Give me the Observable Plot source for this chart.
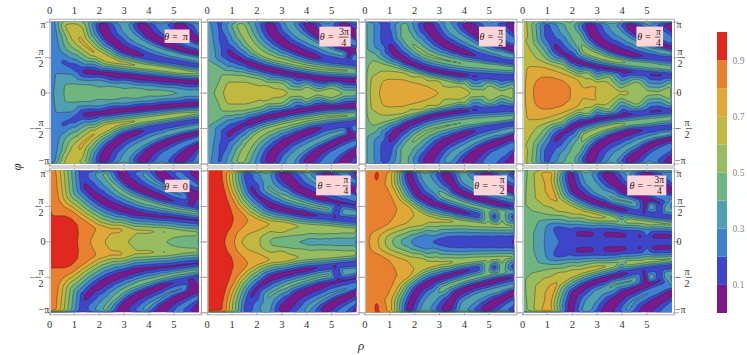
<!DOCTYPE html>
<html><head><meta charset="utf-8">
<script src="https://cdn.jsdelivr.net/npm/d3@7"></script>
<script src="https://cdn.jsdelivr.net/npm/@observablehq/plot@0.6"></script>
<style>
html,body{margin:0;padding:0;background:#fff}
#wrap{position:relative;width:747px;height:355px;overflow:hidden}
#wrap>svg{position:absolute;left:0;top:0}
.lab{position:absolute;font-family:"Liberation Serif",serif;font-style:italic;font-size:13px;color:#333}
</style></head><body><div id="wrap"></div>
<script>
// (upper half, each panel is mirror-symmetric in phi).
// Axis arrays: rho, value along phi=0. Line arrays: value, then rho, phi/pi pairs.
const A1=[.05,.27,.3,.34,.56,.4,1,.45,1.5,.48,2,.48,2.5,.48,3,.47,3.5,.46,4,.45,4.5,.44,5,.43,5.6,.4,6.05,.37];
const L1=[
[.26,.05,.28,.05,.5],[.24,.05,.75],[.22,.05,1],
[.3,.22,1,.3,.85,.38,.7,.5,.58,.25,.28,.6,.27,.9,.27,2,.19,3,.15,4,.115,5,.08,6.05,.05],
[.4,.6,.13,1,.14,1.5,.13,2.5,.1,3.5,.08,4.5,.05],
[.17,.62,.44,.8,.4],[.12,1.05,.36,1.25,.33],[.03,1.44,.31,1.9,.29],
[0,2.4,.27,2.9,.25,3.4,.235,3.9,.215,4.4,.2,4.9,.185,5.5,.17,6.05,.16],
[.6,.55,1,.65,.9,.85,.78,1.1,.68],[.55,1.35,1],[.66,.95,1,1,.9],
[.74,1.3,.73,1.55,.65,1.8,.58,2.1,.52,2.4,.47],[.68,2.8,.43,3.2,.41],[.65,3.7,.38,4.2,.36,4.7,.335,5.2,.31],[.6,5.7,.29,6.05,.28],
[0,2.1,1,2.15,.9,2.3,.8,2.5,.73,2.85,.63,3.1,.59,3.4,.555],[.06,3.8,.52,4.1,.49,4.5,.465,5,.44,5.5,.41,6.05,.385],
[.39,3,1,3.1,.9,3.3,.81,3.6,.74,3.9,.69,4.2,.64,4.6,.59],[.43,5,.55,5.5,.51,6.05,.47],
[-.01,3.67,1,3.75,.92,3.95,.83,4.2,.77,4.5,.72,4.8,.67,5.1,.635,5.4,.6,5.7,.58,6.05,.555],
[.31,4.46,1,4.55,.93,4.75,.86,5,.8,5.3,.74,5.65,.69,6.05,.64],
[-.01,5.16,1,5.25,.93,5.45,.85,5.7,.79,6.05,.725],
[.27,5.85,1,6.05,.85],[.26,6.05,1]];
const A2=[.05,.43,.27,.5,.63,.6,1.1,.68,1.56,.71,2.1,.69,2.6,.66,3.2,.63,3.8,.6,4.4,.57,5,.54,5.5,.52,6.05,.51];
const L2=[
[.42,.05,.45],[.38,.05,.7],[.33,.05,1],
[.5,.6,.26,1,.26,1.5,.25,2.2,.2,3,.15,4,.1,5,.085],
[.6,.8,.16,1.5,.16,2.3,.12,3,.07],
[.17,.5,1,.55,.88],[.13,.65,.76,.75,.66],
[.05,.89,.58,1.1,.52,1.4,.46],[0,1.76,.41,2.2,.36,2.7,.32,3.2,.28,3.76,.25,4.3,.22,4.9,.2,5.5,.19,6.05,.18],
[.58,1.33,1,1.4,.92,1.5,.84,1.7,.72,2,.6,2.3,.53,2.7,.48,3.2,.44,3.8,.39,4.3,.36,4.8,.335,5.3,.325,5.6,.32],[.52,6.05,.3],
[0,2.5,1,2.55,.92,2.65,.84,2.85,.76,3.2,.67,3.75,.58,4.2,.52],[.06,4.6,.48,5.1,.45,5.6,.43,6.05,.41],
[.39,3.3,1,3.4,.93,3.6,.85,3.9,.78,4.2,.72,4.6,.66,5,.6,5.5,.55],[.43,6.05,.5],
[-.01,4,1,4.1,.93,4.3,.86,4.6,.79,5,.72,5.4,.65,5.76,.6,6.05,.58],
[.32,4.8,1,4.9,.93,5.1,.86,5.5,.78,6.05,.7],
[-.01,5.45,1,5.55,.93,5.75,.87,6.05,.8],[.28,6.05,1]];
const A3=[.05,.53,.2,.6,.57,.7,1,.78,1.4,.81,1.9,.78,2.5,.74,3.04,.7,3.6,.67,4.2,.63,4.9,.6,5.5,.56,6.05,.54];
const L3=[
[.5,.05,.35],[.42,.05,.6,.05,1],
[.6,.25,.22,.65,.31,1.1,.31,1.6,.29,2.3,.24,3,.18,3.8,.1],
[.7,.7,.17,.9,.2,1.6,.19,2,.15,2.5,.1],
[.5,.35,.47,.7,.42,1.3,.36,1.9,.3,2.5,.24,3.2,.19,4,.15,5,.12,6.05,.1],
[.13,.8,1,.85,.9],[.1,.9,.84,.97,.72],[.01,1.1,.62,1.3,.53,1.7,.44,2.24,.366,2.7,.32,3.3,.28,3.84,.255],[.05,4.4,.24,5,.235,5.5,.225,6.05,.22],
[.47,1.6,1,1.6,.9],[.52,1.65,.81,1.8,.72],[.55,2.1,.62,2.4,.55,2.8,.5,3.3,.46,3.9,.42,4.5,.4,5,.38,5.4,.37],[.52,6.05,.35],
[0,2.55,1,2.6,.92,2.8,.82,3,.74,3.3,.67,3.6,.62,4,.57],[.06,4.5,.52,5,.48,5.5,.45,6.05,.42],
[.38,3.3,1,3.4,.93,3.6,.85,3.95,.77,4.3,.7,4.7,.64,5.2,.58],[.44,5.6,.55,6.05,.52],
[-.01,4.08,1,4.15,.93,4.3,.88,4.55,.81,4.8,.76,5.1,.72,5.4,.68,5.7,.64,6.05,.6],
[.32,5,1,5.1,.93,5.3,.86,5.65,.79,6.05,.72],
[-.01,5.85,1,5.95,.94,6.05,.9],[.1,6.05,1]];
const A4=[.05,.7,.43,.8,.8,.87,1.1,.89,1.5,.86,1.93,.8,2.4,.75,2.9,.7,3.4,.66,3.9,.63,4.4,.6,5,.56,5.5,.54,6.05,.53];
const L4=[
[.7,.05,.3],[.65,.05,.5],[.62,.05,.75,.05,1],
[.8,.45,.1,.55,.18,.8,.235,1.2,.23,1.6,.19,1.9,.1],
[.7,.12,.2,.25,.38,.8,.37,1.2,.33,1.6,.28,2.2,.2,2.98,.11],
[.6,.2,1,.25,.8,.35,.6,.6,.48,1,.42,1.7,.33,2.5,.2,3.5,.14,4.66,.09],
[.5,.35,1,.45,.7,.9,.5,1.7,.4,2.6,.3,3.5,.24,4.6,.17,6.05,.12],
[.15,.93,1,.97,.9],[.12,1,.84,1.15,.74],[.05,1.33,.65,1.6,.56],[.01,1.94,.48,2.4,.42,3,.37,3.55,.34,4.1,.31],[.05,4.6,.29,5.16,.27,5.6,.26,6.05,.25],
[.48,1.94,1,2,.9],[.52,2.2,.8,2.35,.7],[.62,2.54,.6,2.9,.54,3.2,.5,3.55,.47,3.9,.45],[.56,4.2,.43,4.7,.41,5.2,.39],[.52,5.6,.37,6.05,.35],
[0,2.67,1,2.72,.9,2.87,.79,3.15,.7,3.55,.62,3.95,.57,4.4,.53],[.06,4.9,.51,5.5,.49,6.05,.48],
[.38,3.6,1,3.7,.92,3.9,.85,4.25,.76,4.7,.68,5.2,.62],[.45,5.6,.59,6.05,.56],
[-.01,4.25,1,4.33,.93,4.55,.87,4.85,.79,5.2,.72,5.6,.67,6.05,.63],
[.32,5.05,1,5.15,.93,5.4,.85,5.7,.79,6.05,.73],
[-.01,5.85,1,5.95,.96,6.05,.93],[.1,6.05,1]];
const A5=[.05,.92,.6,.93,1.15,.9,1.62,.8,2.2,.7,2.6,.66,3.12,.6,3.8,.55,4.6,.5,5,.47,5.5,.45,6.05,.43];
const L5=[
[.9,.05,.39,.6,.39,.9,.35,1.17,.25,1.2,.12],[.85,.05,.7,.05,1],
[.8,.28,1,.33,.8,.4,.6,.6,.5,.9,.44,1.2,.36,1.55,.28,1.9,.2],
[.72,2.4,.19,2.9,.19],[.62,3.4,.175,4.1,.165,4.73,.155],[.56,5.4,.14],[.54,6.05,.13],
[.5,5,.07,5.5,.09,6.05,.09],
[.12,1.3,1,1.33,.88],[.04,1.48,.765,1.7,.68],[.01,2.04,.6,2.4,.53,2.9,.46,3.4,.41],[.04,3.9,.38,4.4,.36,4.9,.35,5.5,.325,6.05,.305],
[.44,2.25,1,2.3,.92,2.45,.85],[.47,2.7,.77,2.95,.7,3.25,.64],[.49,3.6,.59,4,.55,4.5,.5,5,.46,5.5,.43,6.05,.4],
[0,2.85,1,2.92,.92,3.1,.85,3.35,.79,3.7,.73,4.1,.67,4.5,.62],[.05,4.9,.58,5.3,.55,5.7,.52,6.05,.48],
[.35,3.8,1,3.9,.93,4.1,.87,4.45,.8,4.8,.73,5.4,.66,6.05,.58],
[-.01,4.4,1,4.5,.93,4.7,.88,5,.81,5.3,.76,5.65,.71,6.05,.65],
[.27,5.13,1,5.25,.93,5.5,.87,5.8,.81,6.05,.77],
[-.01,5.87,1,5.95,.95,6.05,.9],[.08,6.05,1]];
const A6=[.05,.97,.72,.9,1.09,.8,1.36,.7,1.83,.6,2.36,.5,2.9,.44,3.43,.4,4,.36,4.4,.345,4.8,.33,5.2,.31,5.56,.3,6.05,.28];
const L6=[
[.97,.05,.5,.05,1],
[.9,.63,1,.65,.88,.7,.8,.85,.6,1,.45,1.16,.34,1,.2,.8,.1],
[.8,.78,1,.9,.7,1.2,.5,1.55,.37,1.9,.3,1.2,.13,1.5,.23],
[.72,2.5,.26,3.03,.25,1.55,.12,2.1,.19],
[.62,3.7,.23,4.3,.21,4.9,.2,2.1,.08,3,.14],[.58,5.5,.19],[.56,6.05,.18],
[.5,2.6,.06,3,.075,3.4,.09,3.9,.1,4.5,.11,5.2,.115,6.05,.12],[.4,4,.05,4.5,.05,5,.05,5.5,.05,6.05,.05],
[.12,1.56,1,1.6,.88],[.05,1.83,.72,2.1,.62],[.01,2.56,.507,3,.46,3.5,.42,4.03,.39],[.05,4.5,.365,5.09,.34,5.6,.32,6.05,.3],
[.39,2.4,1,2.42,.9],[.44,2.5,.75,2.8,.68],[.47,3.2,.62,3.7,.56,4.3,.5,4.9,.46,5.6,.42],[.43,6.05,.4],
[0,3.03,1,3.1,.93,3.3,.85,3.5,.78,3.75,.72,4.1,.67,4.5,.62],[.05,4.9,.58,5.3,.55,5.7,.53,6.05,.5],
[.35,4,1,4.1,.93,4.3,.87,4.65,.8,5,.74,5.5,.68,6.05,.62],
[-.01,4.7,1,4.8,.93,5,.87,5.3,.81,5.6,.77,6.05,.7],
[.27,5.4,1,5.5,.95,5.8,.88,6.05,.83],[0,6,1,6.05,.97],[.1,6.05,1]];
const A7=[.05,.82,.17,.8,.53,.7,.8,.6,1.1,.5,1.41,.4,1.8,.3,2.57,.2,3,.17,3.5,.14,4,.125,4.7,.1,5.4,.07,6.05,.05];
const L7=[
[.83,.05,.2],[.85,.05,.6,.05,1,.25,1,.75,1],
[.92,.48,1,.48,.92],[.9,.4,.92,.56,.92,.48,.81],
[.8,.25,.1,.5,.16,.75,.19,1,.24,1.2,.34,1.47,.47,.9,1,.97,.74,1.15,.62,1.3,.54],
[.7,.6,.1,.85,.16,1.2,.2,1.7,.26,2.57,.33,1.07,1,1.1,.8,1.4,.6,1.9,.47,2.3,.37],
[.66,3,.31,3.4,.3],[.61,3.9,.28,4.37,.26,.85,.08,1.1,.13,1.6,.19,2.2,.23],[.58,5,.24,5.5,.23],[.55,6.05,.22],
[.5,1.2,.07,1.6,.12,2.3,.17],
[.4,1.5,.05,2,.11],
[.3,1.9,.05,2.4,.11],
[.2,2.7,.02,3.2,.08,3.7,.09,4.2,.09,4.7,.09,5.2,.09,5.7,.09,6.05,.09],
[.01,1.73,1,1.8,.9,1.95,.77,2.17,.65,2.7,.55,3.3,.48,3.9,.42],[.05,4.5,.375,5.2,.36,6.05,.35],
[.4,2.37,1,2.42,.92,2.55,.85,2.85,.74],[.5,3.17,.65,3.6,.59,4.2,.52,4.9,.46,5.5,.44],[.46,6.05,.43],
[0,3.24,1,3.3,.93,3.45,.85,3.7,.72,4.2,.64,4.9,.577,5.5,.52],[.05,6.05,.48],
[.35,3.85,1],[.41,3.97,.9,4.15,.84,4.37,.79,4.8,.73,5.4,.67,6.05,.62],
[-.01,4.8,1,4.9,.93,5.1,.87,5.35,.82,5.6,.78,6.05,.7],
[.29,5.5,1,5.7,.92,6.05,.84],[0,6,1,6.05,.97],[.1,6.05,1]];
const A8=[.05,.46,.46,.4,.86,.3,1.46,.2,2,.17,2.5,.16,3,.16,3.5,.16,4,.155,4.5,.155,5,.155,5.5,.15,6.05,.15];
const L8=[
[.47,.05,.25],[.48,.05,.5],[.45,.05,1],[.5,.2,1],[.6,.45,1],[.7,.7,1,1.22,1],
[.15,1.4,.18],[.06,2.2,.13,2.8,.125,3.4,.12,4,.11,4.7,.1,5.3,.095,6.05,.09],
[.2,1.45,.22,2,.2,3,.2,3.8,.19,4.5,.17,5.3,.16,6.05,.155],
[.3,.9,.15,1,.25,1.5,.26,2.2,.25,3.2,.24,4,.21,5,.185,6.05,.175],
[.4,.45,.12,.65,.3,1.2,.32,2,.29,3,.27,4,.235,5,.2,6.05,.19],
[.5,.1,.46,.5,.43,1.1,.38,2,.33,3,.29,4,.26,5,.235,6.05,.21],
[.78,1,1,1.05,.88],[.76,1.15,.75,1.25,.66],[.72,1.4,.58,1.8,.49],[.68,2.3,.43,2.9,.38],[.62,3.65,.33,4.3,.3],[.58,5,.28,5.5,.265],[.54,6.05,.25],
[.01,1.9,1,1.93,.9,2,.8,2.07,.72,2.4,.64,3,.55,3.5,.5,3.95,.46],[.06,4.4,.42,4.9,.39,5.5,.36,6.05,.34],
[.4,2.54,1,2.6,.92,2.7,.85,3.1,.7],[.46,3.68,.6,4.4,.55,5.16,.51,5.83,.46],[.44,6.05,.44],
[-.01,3.39,1,3.45,.93,3.65,.85,4.08,.72,4.5,.67,5,.6],[.05,5.5,.55,6.05,.51],
[.34,4.2,1,4.25,.93,4.4,.85,4.7,.79,5,.73,5.5,.66,6.05,.6],
[-.01,4.9,1,5,.93,5.3,.85,5.6,.79,6.05,.7],
[.27,5.7,1,5.85,.93,6.05,.87],[.2,6.05,1]];
const axes=[A1,A2,A3,A4,A5,A6,A7,A8];
const lines=[L1,L2,L3,L4,L5,L6,L7,L8];
const thresholds=[-1,.1,.2,.3,.4,.5,.6,.7,.8,.9];
const colors=["#7a1a8a","#3f45c8","#4080d0","#50a0b0","#70b480","#98bc60","#c0b840","#e0a838","#e8802f","#e0281f"];
const rhoTicks=[0,1,2,3,4,5];
const phiTicks=[-1,-.5,0,.5,1];
const thetaPrefix=["θ = ","θ = ","θ = ","θ = ","θ = ","θ = −","θ = −","θ = −"];
const thetaNum=["π","3π","π","π","0","π","π","3π"];
const thetaDen=["","4","2","4","","4","2","4"];
const boxX1=[4.65,4.53,4.61,4.6,4.66,4.4,4.4,4.23];
const boxX2=[5.65,5.79,5.68,5.67,5.65,5.79,5.73,5.8];
const boxY1=[.7,.65,.65,.65,.695,.65,.65,.65];
const boxY2=[.89,.93,.93,.93,.87,.93,.93,.93];
const prefixEnd=[5.28,5.2,5.28,5.28,5.28,5.38,5.34,5.24];
const fracX=[5.46,5.5,5.46,5.46,5.46,5.58,5.52,5.5];
const fracHalf=[0,.2,.11,.11,0,.11,.11,.2];
const yBars=[[0,.5,-.56,-.32],[0,-.5,-.56,-.32],[3,.5,6.3,6.56],[3,-.5,6.58,6.84]];

const pts=[];
axes.forEach((A,p)=>{for(let i=0;i<A.length;i+=2)pts.push({p,r:A[i],f:0,v:A[i+1]})});
lines.forEach((L,p)=>L.forEach(l=>{for(let i=1;i<l.length;i+=2){
  pts.push({p,r:l[i],f:l[i+1],v:l[0]});
  pts.push({p,r:l[i],f:-l[i+1],v:l[0]});
}}));
const fx=d=>d.p%4, fy=d=>d.p>>2;
const boxes=lines.map((_,p)=>({p,x1:boxX1[p],x2:boxX2[p],y1:boxY1[p],y2:boxY2[p],ym:(boxY1[p]+boxY2[p])/2}));
const fracs=boxes.filter(d=>thetaDen[d.p]);
const contourBase={x:"r",y:"f",value:"v",fx,fy,interpolate:"barycentric",pixelSize:1,blur:.8,clip:true,x1:-.1,x2:6.25,y1:-1.04,y2:1.04};
const serif="Liberation Serif";
const yl=(fxv,txt,y,frame,dx,dy=0,rows=["0","1"])=>Plot.text(rows,{text:()=>txt,fx:()=>fxv,fy:d=>+d,y:()=>y,frameAnchor:frame,dx,dy,fontFamily:serif,fontSize:10,fill:"#333"});
const ylabels=[];
for(const [fxv,frame,s] of [[0,"left",-1],[3,"right",1]]){
  ylabels.push(yl(fxv,"π",1,frame,s<0?-11:9,3),yl(fxv,"π",.5,frame,s<0?-13:10,-6),yl(fxv,"2",.5,frame,s<0?-13:10,6),yl(fxv,"0",0,frame,s<0?-11:9),
    yl(fxv,"π",-.5,frame,s<0?-13:17,-6),yl(fxv,"2",-.5,frame,s<0?-13:17,6),yl(fxv,"−",-.5,frame,s<0?-22:9),yl(fxv,"−π",-1,frame,s<0?-13:13,-3));
}
const main=Plot.plot({width:747,height:355,marginLeft:51,marginRight:75,marginTop:21.7,marginBottom:42.7,
 style:{background:"transparent"},
 fx:{axis:null,domain:[0,1,2,3],padding:.0615,round:false},
 fy:{axis:null,domain:[0,1],padding:.047,round:false},
 x:{domain:[.08,6.03],axis:null},
 y:{domain:[-1,1],axis:null},
 color:{type:"threshold",domain:thresholds.slice(1),range:colors},
 marks:[
  Plot.contour(pts,{...contourBase,fill:"value",thresholds}),
  Plot.contour(pts,{...contourBase,stroke:"#2a2a2a",strokeOpacity:.6,strokeWidth:.7,fill:"none",thresholds:thresholds.slice(1)}),
  Plot.frame({stroke:"#aaa",strokeWidth:1,insetLeft:-1.5,insetRight:-2,insetTop:-3,insetBottom:-2}),
  Plot.axisX({anchor:"top",ticks:rhoTicks,tickSize:3,text:null,label:null,facetAnchor:null,stroke:"#aaa"}),
  Plot.axisX({anchor:"bottom",ticks:rhoTicks,tickSize:3,text:null,label:null,facetAnchor:null,stroke:"#aaa"}),
  Plot.axisX({anchor:"top",ticks:rhoTicks,tickFormat:d3.format("d"),tickSize:0,tickPadding:8,label:null,facetAnchor:"top",fontFamily:serif,fontSize:10.5,fill:"#333"}),
  Plot.axisX({anchor:"bottom",ticks:rhoTicks,tickFormat:d3.format("d"),tickSize:0,tickPadding:8,label:null,facetAnchor:"bottom",fontFamily:serif,fontSize:10.5,fill:"#333"}),
  Plot.axisY({anchor:"left",ticks:phiTicks,tickSize:6,text:null,label:null,facetAnchor:null,stroke:"#aaa"}),
  Plot.axisY({anchor:"right",ticks:phiTicks,tickSize:6,text:null,label:null,facetAnchor:null,stroke:"#aaa"}),
  ...ylabels,
  Plot.ruleY(yBars.flatMap(b=>[{c:b[0],r:0,b},{c:b[0],r:1,b}]),{fx:d=>d.c,fy:d=>d.r,y:d=>d.b[1],x1:d=>d.b[2],x2:d=>d.b[3],stroke:"#333",strokeWidth:.7}),
  Plot.rect(boxes,{x1:"x1",x2:"x2",y1:"y1",y2:"y2",fx,fy,fill:"#ffd5d8"}),
  Plot.text(boxes,{fx,fy,x:d=>prefixEnd[d.p],y:"ym",text:d=>thetaPrefix[d.p],fontFamily:serif,fontSize:10,fontStyle:"italic",fill:"#222",textAnchor:"end"}),
  Plot.text(boxes.filter(d=>!thetaDen[d.p]),{fx,fy,x:d=>fracX[d.p],y:"ym",text:d=>thetaNum[d.p],fontFamily:serif,fontSize:10,fill:"#222"}),
  Plot.text(fracs,{fx,fy,x:d=>fracX[d.p],y:"ym",dy:-5.5,text:d=>thetaNum[d.p],fontFamily:serif,fontSize:9.5,fill:"#222"}),
  Plot.text(fracs,{fx,fy,x:d=>fracX[d.p],y:"ym",dy:5.5,text:d=>thetaDen[d.p],fontFamily:serif,fontSize:9.5,fill:"#222"}),
  Plot.ruleY(fracs,{fx,fy,y:"ym",x1:d=>fracX[d.p]-fracHalf[d.p],x2:d=>fracX[d.p]+fracHalf[d.p],stroke:"#222",strokeWidth:.7})
 ]});
const barLevels=[0,.1,.2,.3,.4,.5,.6,.7,.8,.9];
const barTicks=[.1,.3,.5,.7,.9];
const bar=Plot.plot({width:747,height:355,marginLeft:717,marginRight:20,marginTop:32,marginBottom:42,
 style:{background:"transparent"},
 x:{domain:[0,1],axis:null},y:{domain:[0,1],axis:null},
 color:{type:"threshold",domain:thresholds.slice(1),range:colors},
 marks:[
  Plot.rect(barLevels,{x1:0,x2:1,y1:d=>d,y2:d=>d+.1,fill:d=>d}),
  Plot.axisY({anchor:"right",ticks:barTicks,tickSize:0,tickPadding:5,label:null,tickFormat:d3.format(".1f"),fontFamily:serif,fontSize:9.5,fill:"#888"})
 ]});
const w=document.getElementById("wrap");
w.append(main,bar);
for(const [t,x,y,r] of [["ρ",358,338,0],["φ",13,159,-90]]){
  const s=document.createElement("span");s.className="lab";s.textContent=t;s.style.left=x+"px";s.style.top=y+"px";
  if(r)s.style.transform=`rotate(${r}deg)`;w.append(s);
}
</script></body></html>
